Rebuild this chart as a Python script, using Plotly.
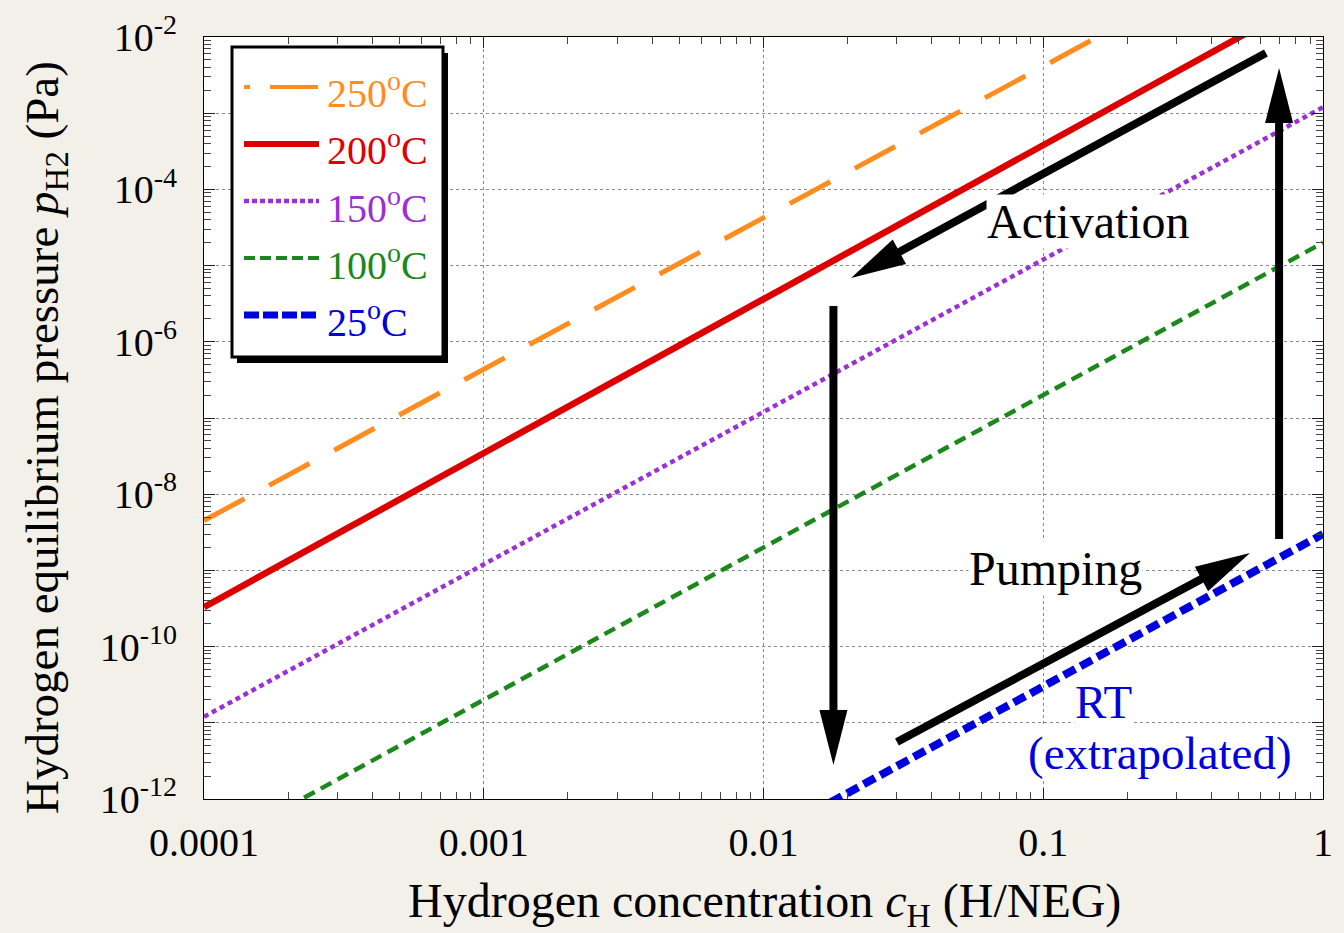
import math
import plotly.graph_objects as go

# ---------------- data ----------------
series_names = ["250<sup>o</sup>C", "200<sup>o</sup>C", "150<sup>o</sup>C", "100<sup>o</sup>C", "25<sup>o</sup>C"]
c_250 = [1e-4, 1.0]
p_250 = [4.5e-9, 0.4]
c_200 = [1e-4, 1.0]
p_200 = [3.3e-10, 0.04]
c_150 = [1e-4, 1.0]
p_150 = [1.2e-11, 1.2e-3]
c_100 = [1e-4, 1.0]
p_100 = [2.0e-13, 2.0e-5]
c_25 = [0.01, 1.0]
p_25 = [3.0e-13, 3.0e-9]

x_tick_vals = [1e-4, 1e-3, 1e-2, 1e-1, 1.0]
x_tick_text = ["0.0001", "0.001", "0.01", "0.1", "1"]
y_tick_vals = [10.0 ** k for k in range(-12, -1)]
y_tick_text = ["10<sup>-12</sup>", "", "10<sup>-10</sup>", "", "10<sup>-8</sup>", "",
               "10<sup>-6</sup>", "", "10<sup>-4</sup>", "", "10<sup>-2</sup>"]

# ---------------- styling ----------------
FONT = "Liberation Serif"
colors = ["#FF8C1E", "#DD0000", "#9B30D6", "#1A881A", "#0000DD"]
widths = [5, 6.5, 4.5, 4.5, 8]
dashes = ["46px,28px", "solid", "5px,4px", "12px,7px", "13px,6px"]

W_FIG, H_FIG = 1344, 933
L, R, T, B = 204, 21, 37, 134
PW, PH = W_FIG - L - R, H_FIG - T - B  # plot area in px
XR = (-4, 0)
YR = (-12, -2)

fig = go.Figure()
all_c = [c_250, c_200, c_150, c_100, c_25]
all_p = [p_250, p_200, p_150, p_100, p_25]
for name, cx, py, col, w, d in zip(series_names, all_c, all_p, colors, widths, dashes):
    fig.add_trace(go.Scatter(
        x=cx, y=py, mode="lines", name=name, showlegend=False,
        line=dict(color=col, width=w, dash=d)))


def px2paper(px, py):
    return (px - L) / PW, (T + PH - py) / PH


def log2paper(lx, ly):
    return (lx - XR[0]) / (XR[1] - XR[0]), (ly - YR[0]) / (YR[1] - YR[0])


shapes = []
annos = []

# ---------------- arrows (in log data coordinates) ----------------
def arrow(tail, tip, shaft=8, head_len=55, head_half=14):
    x0, y0 = log2paper(*tail)
    x1, y1 = log2paper(*tip)
    dx, dy = (x1 - x0) * PW, (y1 - y0) * PH
    ln = math.hypot(dx, dy)
    ux, uy = dx / ln, dy / ln
    sx, sy = x1 - ux * (head_len - 6) / PW, y1 - uy * (head_len - 6) / PH
    bx, by = x1 - ux * head_len / PW, y1 - uy * head_len / PH
    nx, ny = -uy, ux
    p1 = (bx + nx * head_half / PW, by + ny * head_half / PH)
    p2 = (bx - nx * head_half / PW, by - ny * head_half / PH)
    shapes.append(dict(type="line", xref="paper", yref="paper", x0=x0, y0=y0, x1=sx, y1=sy,
                       line=dict(color="black", width=shaft), layer="above"))
    shapes.append(dict(type="path", xref="paper", yref="paper",
                       path=f"M{x1},{y1} L{p1[0]},{p1[1]} L{p2[0]},{p2[1]} Z",
                       fillcolor="black", line=dict(color="black", width=0), layer="above"))


arrow((-0.204, -2.21), (-1.687, -5.163))   # Activation
arrow((-1.750, -5.530), (-1.750, -11.554))  # down
arrow((-0.157, -8.588), (-0.157, -2.407))   # up
arrow((-1.523, -11.252), (-0.261, -8.772))  # Pumping

# ---------------- text labels ----------------
def label(text, lx, ly, color="black", size=48, bg="white"):
    annos.append(dict(text=text, x=lx, y=ly, xref="x", yref="y", showarrow=False,
                      font=dict(family=FONT, size=size, color=color),
                      bgcolor=bg, xanchor="center", yanchor="middle", borderpad=0))


label("Activation", -0.840, -4.42)
label("Pumping", -0.957, -8.98)
label("RT", -0.786, -10.73, color="#0000DD", size=47)
label("(extrapolated)", -0.583, -11.39, color="#0000DD", size=47)

# ---------------- axis titles ----------------
tx, ty = px2paper(45, 438)
annos.append(dict(text="Hydrogen equilibrium pressure <i>p</i><sub>H2</sub> (Pa)",
                  x=tx, y=ty, xref="paper", yref="paper", showarrow=False, textangle=-90,
                  xanchor="center", yanchor="middle",
                  font=dict(family=FONT, size=47, color="black")))
tx, ty = px2paper(764, 904)
annos.append(dict(text="Hydrogen concentration <i>c</i><sub>H</sub> (H/NEG)",
                  x=tx, y=ty, xref="paper", yref="paper", showarrow=False,
                  xanchor="center", yanchor="middle",
                  font=dict(family=FONT, size=48, color="black")))

# ---------------- legend (drawn box) ----------------
bx0, by0, bx1, by1 = 232, 47, 443, 357
a0, a1 = px2paper(bx0 + 5, by1 + 6), px2paper(bx1 + 5, by0 + 6)
shapes.append(dict(type="rect", xref="paper", yref="paper", x0=a0[0], y0=a0[1], x1=a1[0], y1=a1[1],
                   fillcolor="black", line=dict(width=0), layer="above"))
a0, a1 = px2paper(bx0, by1), px2paper(bx1, by0)
shapes.append(dict(type="rect", xref="paper", yref="paper", x0=a0[0], y0=a0[1], x1=a1[0], y1=a1[1],
                   fillcolor="white", line=dict(color="black", width=3), layer="above"))
leg_dash = ["6px,20px,48px,100px", "solid", "5px,3px", "11px,5px", "15px,4px"]
leg_w = [4, 6, 4.5, 4, 7]
for i, (name, col) in enumerate(zip(series_names, colors)):
    ly = 87 + 57 * i
    s0, s1 = px2paper(244, ly), px2paper(319, ly)
    shapes.append(dict(type="line", xref="paper", yref="paper", x0=s0[0], y0=s0[1], x1=s1[0], y1=s1[1],
                       line=dict(color=col, width=leg_w[i], dash=leg_dash[i]), layer="above"))
    tp = px2paper(325, ly + 4)
    annos.append(dict(text=name, x=tp[0], y=tp[1], xref="paper", yref="paper", showarrow=False,
                      xanchor="left", yanchor="middle",
                      font=dict(family=FONT, size=40, color=col)))

axis_common = dict(
    type="log", showline=True, linecolor="black", linewidth=1, mirror="allticks",
    ticks="inside", ticklen=11, tickcolor="#222", tickwidth=1, automargin=False,
    showgrid=True, gridcolor="#8a8a8a", gridwidth=1, griddash="dot",
    zeroline=False, tickfont=dict(family=FONT, size=40, color="black"),
)

fig.update_layout(
    width=W_FIG, height=H_FIG, autosize=False,
    margin=dict(l=L, r=R, t=T, b=B),
    paper_bgcolor="#F3F0EA", plot_bgcolor="white",
    showlegend=False,
    xaxis=dict(**axis_common, range=list(XR), tickmode="array", tickvals=x_tick_vals, ticktext=x_tick_text,
               ticklabelstandoff=8,
               minor=dict(ticks="inside", ticklen=7, tickcolor="#444", tickmode="array",
                          tickvals=[m * 10.0 ** k for k in range(-4, 0) for m in range(2, 10)],
                          showgrid=False)),
    yaxis=dict(**axis_common, range=list(YR), tickmode="array", tickvals=y_tick_vals, ticktext=y_tick_text,
               ticklabelstandoff=18,
               minor=dict(ticks="inside", ticklen=7, tickcolor="#444", tickmode="array",
                          tickvals=[m * 10.0 ** k for k in range(-12, -2) for m in range(2, 10)],
                          showgrid=False)),
    shapes=shapes,
    annotations=annos,
)

fig.write_html("out.html")
